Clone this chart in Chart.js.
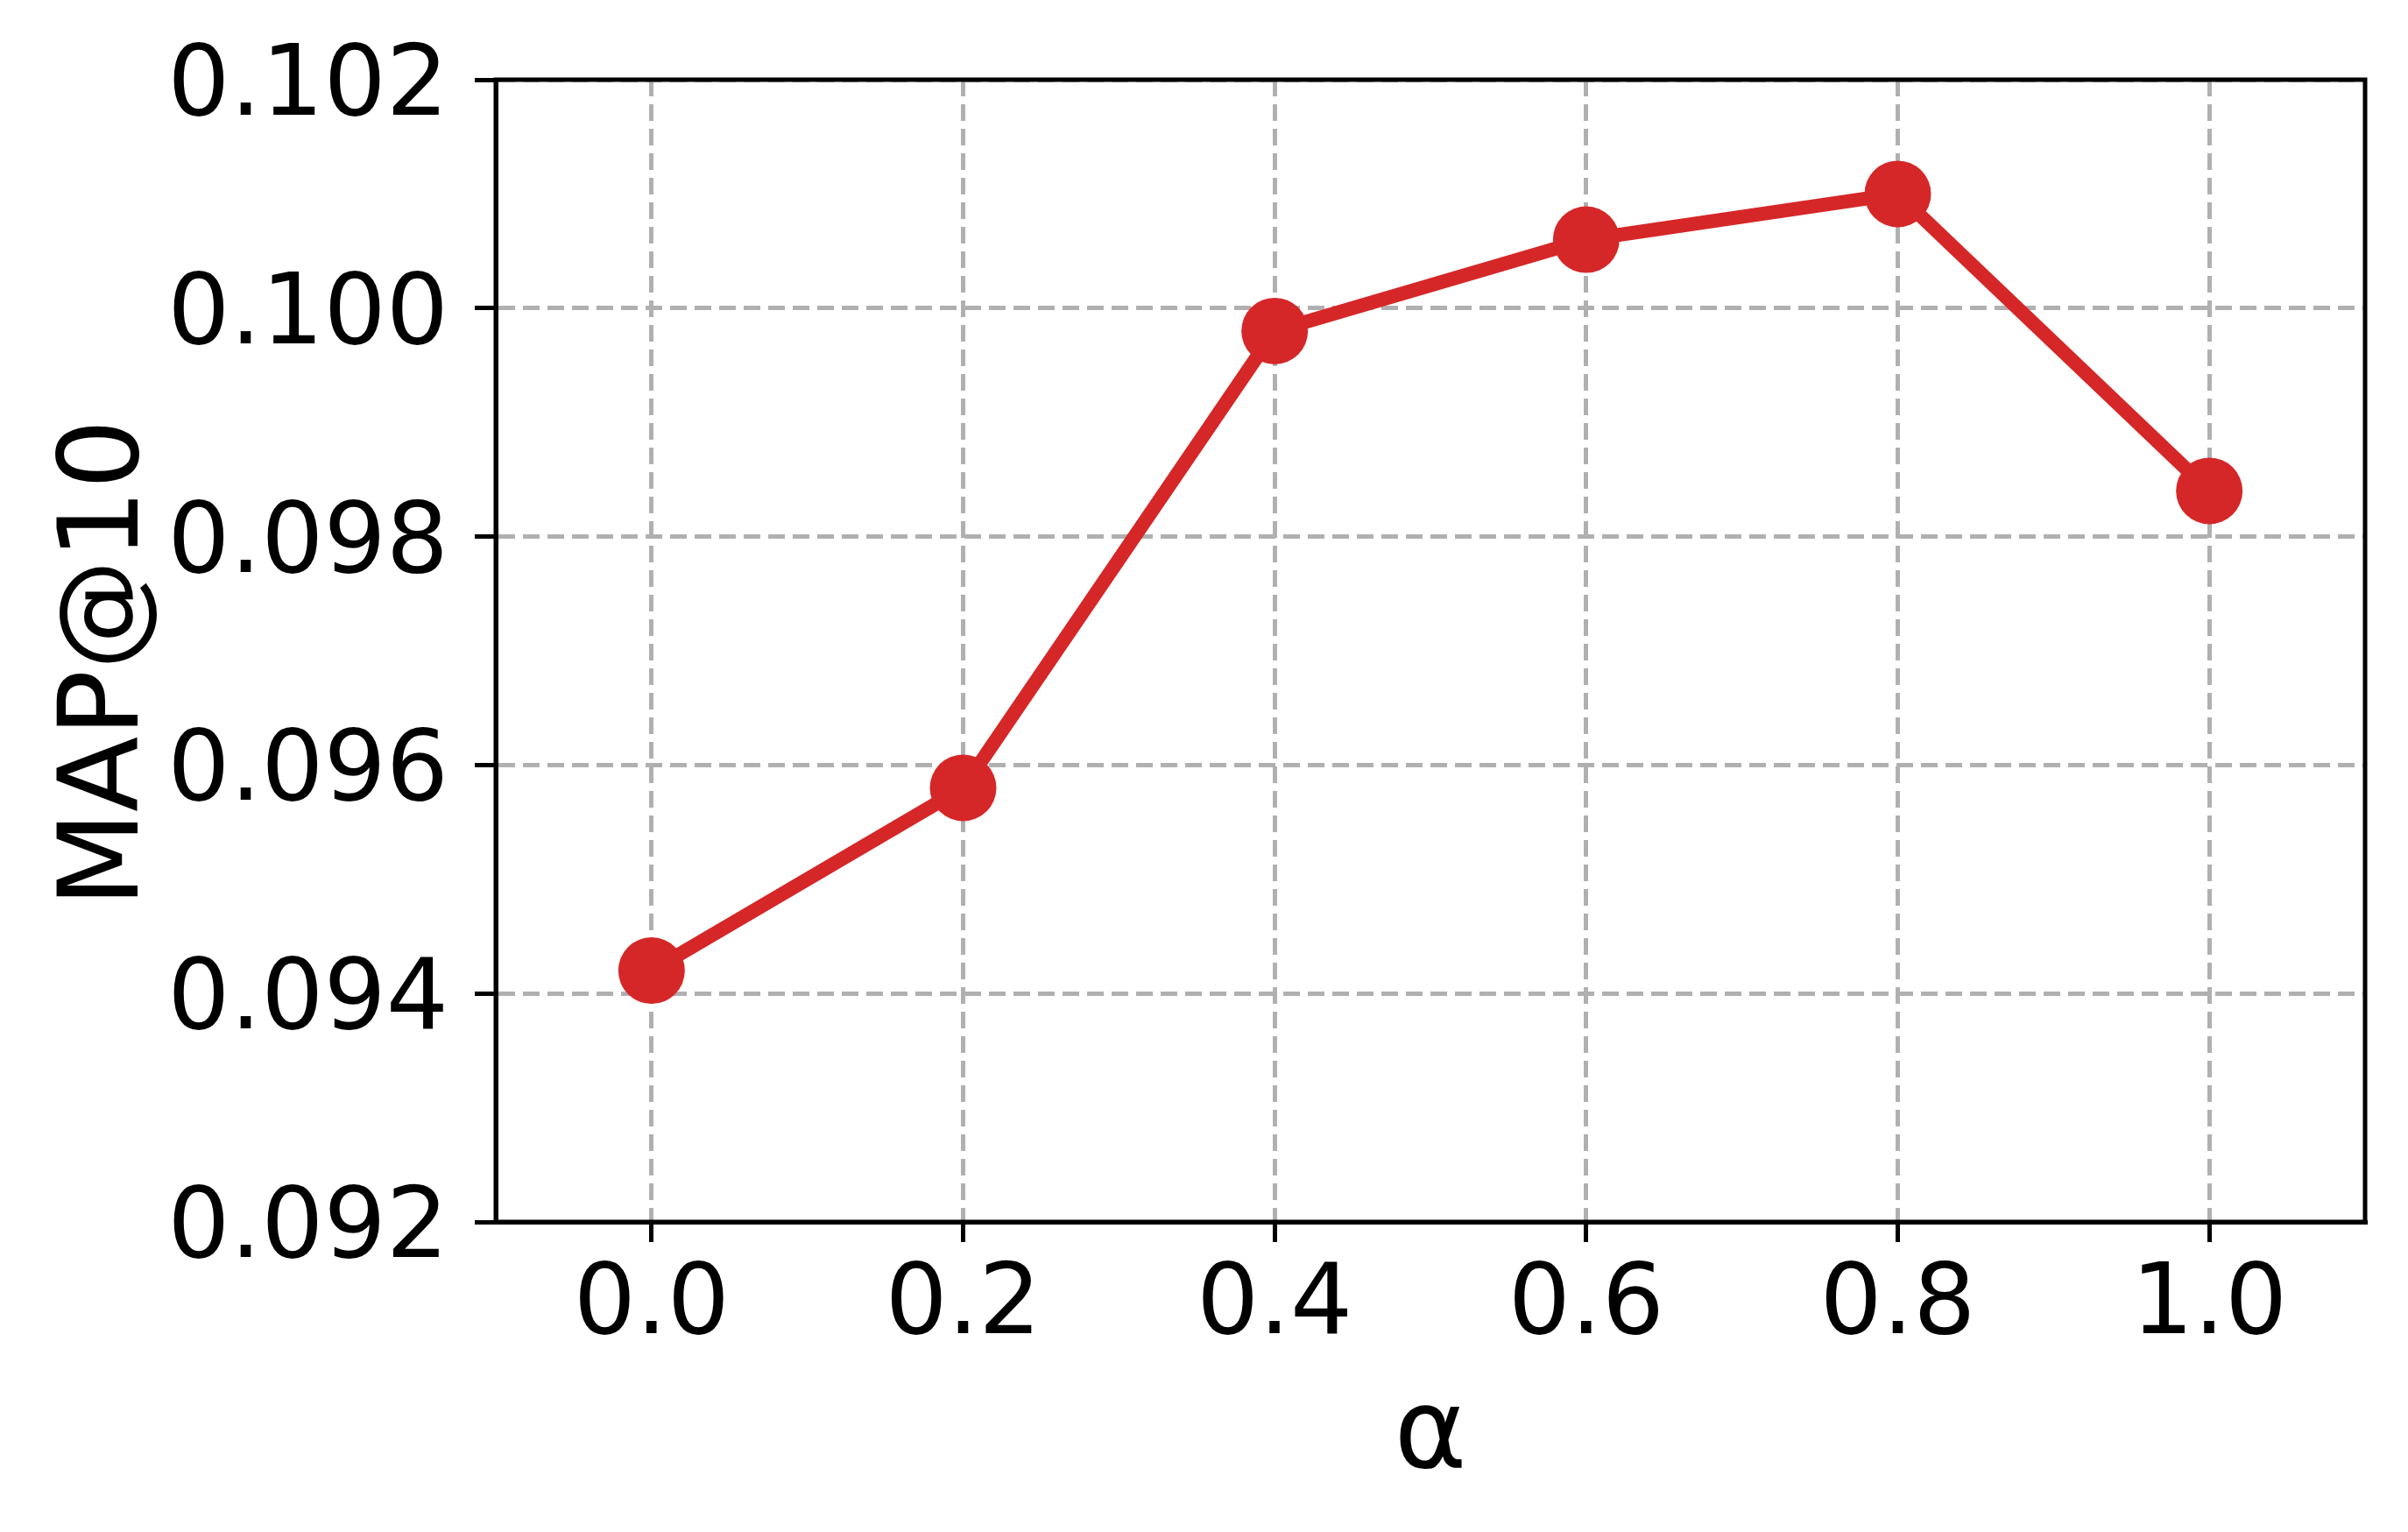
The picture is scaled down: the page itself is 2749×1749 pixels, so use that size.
<!DOCTYPE html>
<html>
<head>
    <style>
        html, body { margin: 0; padding: 0; background: #ffffff; }
        #wrap { width: 2749px; height: 1749px; }
    </style>
    <script src="https://cdn.jsdelivr.net/npm/chart.js"></script>
</head>
<body>
    <div id="wrap"><canvas id="chart" width="2749" height="1749"></canvas></div>
    <script>
        // data
        const alphas = [0.0, 0.2, 0.4, 0.6, 0.8, 1.0];
        const mapAt10 = [0.0942, 0.0958, 0.0998, 0.1006, 0.1010, 0.0984];
        const yTicks = [0.092, 0.094, 0.096, 0.098, 0.100, 0.102];
        const xLabel = 'α';
        const yLabel = 'MAP@10';

        const FONT = 'DejaVu Sans';

        // full box around the plot (matplotlib style spines) + y label
        const frame = {
            id: 'frame',
            afterDraw(chart) {
                const {ctx, chartArea: a} = chart;
                ctx.save();
                ctx.strokeStyle = '#000';
                ctx.lineWidth = 5;
                ctx.setLineDash([]);
                ctx.strokeRect(a.left, a.top, a.right - a.left, a.bottom - a.top);

                // y axis label, centred a bit lower like matplotlib does it
                ctx.translate(124, (a.top + a.bottom) / 2 + 14);
                ctx.rotate(-Math.PI / 2);
                ctx.fillStyle = '#000';
                ctx.font = '126px "' + FONT + '"';
                ctx.textAlign = 'center';
                ctx.textBaseline = 'middle';
                ctx.fillText(yLabel, 0, 0);
                ctx.restore();
            }
        };

        new Chart(document.getElementById('chart'), {
            type: 'line',
            data: {
                datasets: [{
                    data: alphas.map((a, i) => ({x: a, y: mapAt10[i]})),
                    borderColor: '#d62728',
                    backgroundColor: '#d62728',
                    borderWidth: 16,
                    pointRadius: 38,
                    pointHoverRadius: 38,
                    pointBorderWidth: 0,
                    fill: false,
                    tension: 0
                }]
            },
            options: {
                responsive: false,
                animation: false,
                devicePixelRatio: 1,
                layout: { padding: { top: 91, right: 49, left: 0, bottom: 0 } },
                plugins: { legend: { display: false }, tooltip: { enabled: false } },
                scales: {
                    x: {
                        type: 'linear',
                        min: -0.1,
                        max: 1.1,
                        afterBuildTicks: s => { s.ticks = alphas.map(v => ({value: v})); },
                        afterFit: s => { s.height = 354; },
                        ticks: {
                            callback: v => Number(v).toFixed(1),
                            font: { family: FONT, size: 112 },
                            color: '#000',
                            padding: 8,
                            maxRotation: 0,
                            autoSkip: false
                        },
                        grid: {
                            color: '#b0b0b0',
                            lineWidth: 5,
                            tickLength: 23,
                            tickColor: '#000',
                            tickWidth: 5,
                            tickBorderDash: []
                        },
                        border: { color: '#000', width: 5, dash: [19, 9] },
                        title: {
                            display: true,
                            text: xLabel,
                            color: '#000',
                            font: { family: FONT, size: 126, lineHeight: 1 },
                            padding: { top: 0, bottom: 44 }
                        }
                    },
                    y: {
                        min: 0.092,
                        max: 0.102,
                        afterBuildTicks: s => { s.ticks = yTicks.map(v => ({value: v})); },
                        afterFit: s => { s.width = 566; },
                        ticks: {
                            callback: v => Number(v).toFixed(3),
                            font: { family: FONT, size: 112, lineHeight: 1 },
                            color: '#000',
                            padding: 30,
                            labelOffset: 11,
                            autoSkip: false
                        },
                        grid: {
                            color: '#b0b0b0',
                            lineWidth: 5,
                            tickLength: 24,
                            tickColor: '#000',
                            tickWidth: 5,
                            tickBorderDash: []
                        },
                        border: { color: '#000', width: 5, dash: [19, 9] },
                        title: { display: false }
                    }
                }
            },
            plugins: [frame]
        });
    </script>
</body>
</html>
